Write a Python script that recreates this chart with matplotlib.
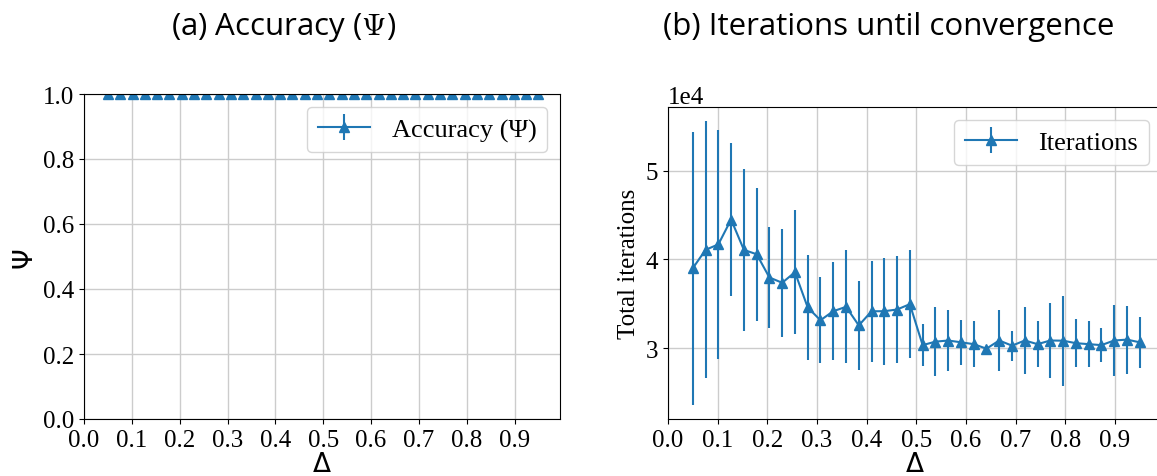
import numpy as np
import matplotlib
matplotlib.use("Agg")
import matplotlib.pyplot as plt

plt.rcParams['font.family'] = ['Liberation Serif', 'DejaVu Sans']
plt.rcParams['mathtext.fontset'] = 'cm'

# Delta values (36 runs from 0.05 to 0.95)
delta = [0.05, 0.0757, 0.1014, 0.1271, 0.1529, 0.1786, 0.2043, 0.23, 0.2557,
         0.2814, 0.3071, 0.3329, 0.3586, 0.3843, 0.41, 0.4357, 0.4614, 0.4871,
         0.5129, 0.5386, 0.5643, 0.59, 0.6157, 0.6414, 0.6671, 0.6929, 0.7186,
         0.7443, 0.77, 0.7957, 0.8214, 0.8471, 0.8729, 0.8986, 0.9243, 0.95]

# accuracy is 1 everywhere
accuracy = [1.0] * 36
accuracy_err = [0.0] * 36

# iterations until convergence (mean and std)
iterations = [39020, 41090, 41700, 44500, 41080, 40590, 37970, 37380, 38570,
              34600, 33160, 34180, 34670, 32580, 34170, 34180, 34370, 34970,
              30360, 30750, 30880, 30680, 30470, 29960, 30880, 30300, 30880,
              30470, 30880, 30860, 30580, 30470, 30360, 30880, 30980, 30680]
iterations_err = [15380, 14480, 12900, 8660, 9160, 7460, 5670, 6100, 6950,
                  5900, 4860, 5500, 6370, 4990, 5670, 6030, 6070, 6070,
                  2390, 3910, 3480, 2560, 2580, 300, 3480, 1700, 3780,
                  2580, 4240, 5080, 2730, 2580, 1940, 3980, 3840, 2860]

xticks = [0.0, 0.1, 0.2, 0.3, 0.4, 0.5, 0.6, 0.7, 0.8, 0.9]

W, H = 1157, 477
fig = plt.figure(figsize=(W / 100, H / 100), dpi=100)

ax1 = fig.add_axes([84 / W, 57 / H, 476 / W, 325 / H])
ax2 = fig.add_axes([668 / W, 57 / H, 494 / W, 312 / H])

blue = '#1f77b4'

# (a) accuracy
ax1.errorbar(delta, accuracy, yerr=accuracy_err, marker='^', color=blue,
             markersize=7, linewidth=1.5, label='Accuracy (Ψ)')
ax1.set_ylim(0, 1.0)
ax1.set_xlim(0, 0.995)
ax1.set_xticks(xticks)
ax1.grid(True, color='#cccccc', linewidth=1)
ax1.set_axisbelow(True)
ax1.tick_params(labelsize=18)
ax1.set_xlabel('Δ', family=['DejaVu Sans'], fontsize=19, labelpad=0.5)
ax1.set_ylabel('Ψ', family=['DejaVu Sans'], fontsize=19)
ax1.legend(loc='upper right', fontsize=19)

# (b) iterations
ax2.errorbar(delta, iterations, yerr=iterations_err, marker='^', color=blue,
             markersize=7, linewidth=1.5, label='Iterations')
ax2.set_xlim(0, 0.995)
ax2.set_xticks(xticks)
ax2.set_yticks([30000, 40000, 50000])
ax2.ticklabel_format(axis='y', style='sci', scilimits=(4, 4))
ax2.yaxis.get_offset_text().set_fontsize(18)
ax2.grid(True, color='#cccccc', linewidth=1)
ax2.set_axisbelow(True)
ax2.tick_params(labelsize=18)
ax2.set_xlabel('Δ', family=['DejaVu Sans'], fontsize=19, labelpad=0.5)
ax2.set_ylabel('Total iterations', fontsize=18)
ax2.legend(loc='upper right', fontsize=19)

fig.text(284 / W, 1 - 27 / H, '(a) Accuracy ($\\Psi$)', ha='center', va='center',
         family=['Open Sans'], fontsize=22.5)
fig.text(889 / W, 1 - 27 / H, '(b) Iterations until convergence', ha='center',
         va='center', family=['Open Sans'], fontsize=22.5)

fig.savefig('out.png', dpi=100)
